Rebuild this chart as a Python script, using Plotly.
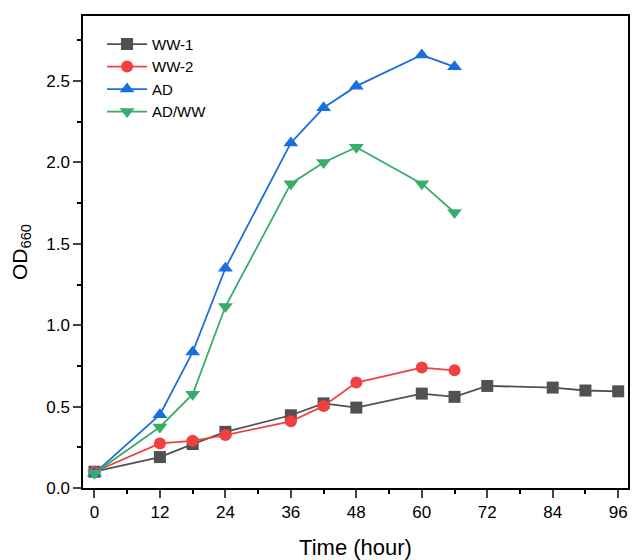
import plotly.graph_objects as go

hours_ww1 = [0, 12, 18, 24, 36, 42, 48, 60, 66, 72, 84, 90, 96]
ww1 = [0.10, 0.19, 0.27, 0.345, 0.447, 0.52, 0.494, 0.58, 0.56, 0.627, 0.617, 0.599, 0.594]

hours_short = [0, 12, 18, 24, 36, 42, 48, 60, 66]
ww2 = [0.10, 0.274, 0.29, 0.325, 0.41, 0.504, 0.648, 0.74, 0.723]
ad = [0.09, 0.45, 0.835, 1.35, 2.12, 2.336, 2.469, 2.66, 2.588]
adww = [0.09, 0.375, 0.576, 1.115, 1.87, 2.0, 2.094, 1.87, 1.693]

names = ["WW-1", "WW-2", "AD", "AD/WW"]
colors = ["#515151", "#F14040", "#1A6FDF", "#37AD6B"]
symbols = ["square", "circle", "triangle-up", "triangle-down"]
x_ticks = [0, 12, 24, 36, 48, 60, 72, 84, 96]

series = [(hours_ww1, ww1), (hours_short, ww2), (hours_short, ad), (hours_short, adww)]

fig = go.Figure()
for (xs, ys), n, c, s in zip(series, names, colors, symbols):
    fig.add_trace(go.Scatter(
        x=xs, y=ys, name=n, mode="lines+markers",
        line=dict(color=c, width=1.8),
        marker=dict(color=c, symbol=s, size=12 if s in ("square", "circle") else 13),
    ))

font_family = "Liberation Sans, Arial, sans-serif"
fig.update_layout(
    width=632, height=560,
    margin=dict(l=83, r=2, t=16, b=71),
    plot_bgcolor="white", paper_bgcolor="white",
    font=dict(family=font_family, size=17, color="black"),
    showlegend=True,
    legend=dict(x=0.035, y=0.975, xanchor="left", yanchor="top",
                bgcolor="rgba(0,0,0,0)", font=dict(size=15),
                tracegroupgap=0, itemwidth=40),
)
fig.update_xaxes(
    range=[-2.1, 97.8], tickvals=x_ticks, ticks="outside", ticklen=8, tickwidth=1.5,
    showline=True, linecolor="black", linewidth=1.5, mirror=True, showgrid=False,
    zeroline=False,
    minor=dict(dtick=6, tick0=0, ticks="outside", ticklen=4, tickwidth=1.5, tickcolor="black"),
    title=dict(text="Time (hour)", font=dict(size=22), standoff=20),
    tickfont=dict(size=17),
)
fig.update_yaxes(
    range=[0, 2.9], dtick=0.5, tick0=0, tickformat=".1f", ticks="outside", ticklen=8, tickwidth=1.5,
    showline=True, linecolor="black", linewidth=1.5, mirror=True, showgrid=False,
    zeroline=False,
    minor=dict(dtick=0.25, tick0=0, ticks="outside", ticklen=4, tickwidth=1.5, tickcolor="black"),
    title=dict(text="OD<sub>660</sub>", font=dict(size=21), standoff=13),
    tickfont=dict(size=17),
)

fig.write_html(
    "out.html",
    config={"displayModeBar": False},
    post_script="document.body.style.margin='0';document.body.style.overflow='hidden';",
)
